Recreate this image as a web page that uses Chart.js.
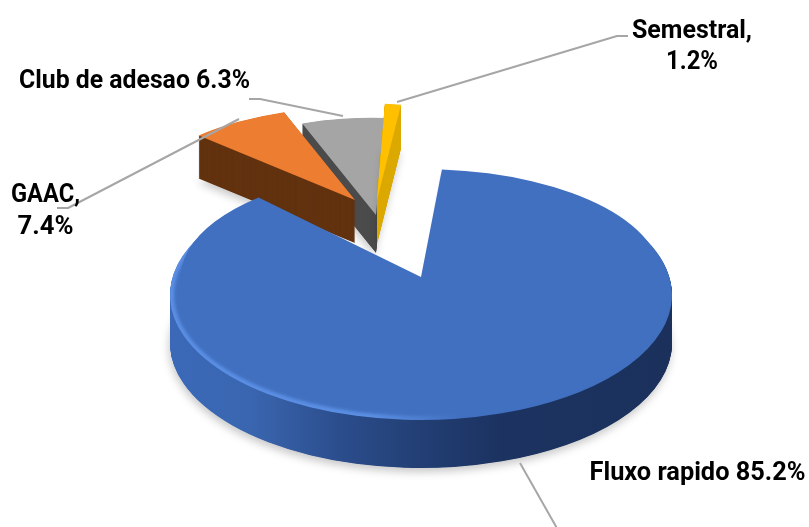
<!DOCTYPE html>
<html>
<head>
<meta charset="utf-8">
<style>
  html, body { margin: 0; padding: 0; background: #fff; }
  canvas { display: block; }
</style>
<script src="https://cdn.jsdelivr.net/npm/chart.js@4"></script>
</head>
<body>
<canvas id="pie3d" width="809" height="527"></canvas>
<script>
// data
const labels = ['Fluxo rapido', 'GAAC', 'Club de adesao', 'Semestral'];
const values = [85.2, 7.4, 6.3, 1.2];
const faceColors = ['#4170c0', '#ed7d31', '#a5a5a5', '#ffc000'];
const wallColors = ['#2f5597', '#633310', '#4b4b4b', '#dca900'];

// how each slice is laid on the fake 3d plane: apex, then a 2x2 matrix in px per unit radius
const frames = [
  { x: 421, y: 295, a: 251, b: 0, c: 0, d: 125, depth: 48 },
  { x: 355, y: 200, a: 219, b: -6, c: 11, d: 93, depth: 43 },
  { x: 376, y: 215, a: 212, b: -6, c: 16, d: 97, depth: 38 },
  { x: 377, y: 200, a: 213, b: 0, c: 17, d: 97, depth: 44 }
];
// far side of the big slice is compressed by perspective, apex sits higher than the ellipse centre
const blueApex = { x: 421, y: 277, a: 240, b: 0, c: 0, d: 108 };
const blueStretch = 6 * Math.PI / 180;
const blueWallStops = [[0, '#3b69b8'], [0.16, '#3a66b0'], [0.34, '#2b4d8c'], [0.54, '#203b6e'], [0.66, '#1c3361'], [1, '#1b315c']];
const blueRimStops = [[0, '#5b8fe4'], [0.4, '#5b8fe4'], [0.58, '#4170c0'], [1, '#4170c0']];
const drawOrder = [2, 3, 1, 0];

const leaders = [
  [[520, 463], [558, 530]],
  [[239, 119], [68, 208], [57, 208]],
  [[343, 116], [260, 99], [249, 99]],
  [[397, 102], [617, 36], [628, 36]]
];
const labelFont = 'bold 26px Roboto';
const labelBoxes = [
  { lines: [labels[0] + ' ' + values[0] + '%'], x: 697.5, y: [480], w: [216] },
  { lines: [labels[1] + ',', values[1] + '%'], x: 45.5, y: [202, 234], w: [69, 56] },
  { lines: [labels[2] + ' ' + values[2] + '%'], x: 134.5, y: [88], w: [231] },
  { lines: [labels[3] + ',', values[3] + '%'], x: 692, y: [38, 69], w: [120, 52] }
];

function paintArc(ctx, arc, frame, fill, dy) {
  const R = arc.outerRadius;
  const original = arc.options;
  arc.options = Object.create(original, {
    backgroundColor: { value: fill },
    borderWidth: { value: 0 }
  });
  ctx.save();
  ctx.translate(frame.x, frame.y + (dy || 0));
  ctx.transform(frame.a / R, frame.b / R, frame.c / R, frame.d / R, 0, 0);
  ctx.translate(-arc.x, -arc.y);
  arc.draw(ctx);
  ctx.restore();
  arc.options = original;
}

function paintWall(ctx, arc, frame, fill) {
  for (let i = frame.depth; i > 0; i -= 0.5) {
    if (i === frame.depth) {
      ctx.save();
      ctx.shadowColor = 'rgba(0,0,0,0.22)';
      ctx.shadowBlur = 9;
      ctx.shadowOffsetX = -1;
      ctx.shadowOffsetY = 4;
      paintArc(ctx, arc, frame, fill, i);
      ctx.restore();
    } else {
      paintArc(ctx, arc, frame, fill, i);
    }
  }
}

function horizontalGradient(ctx, arc, stops) {
  const g = ctx.createLinearGradient(arc.x - arc.outerRadius, 0, arc.x + arc.outerRadius, 0);
  stops.forEach(s => g.addColorStop(s[0], s[1]));
  return g;
}

const pie3d = {
  id: 'pie3d',
  beforeDatasetsDraw(chart) {
    const ctx = chart.ctx;
    const arcs = chart.getDatasetMeta(0).data;
    drawOrder.forEach(i => {
      const arc = arcs[i];
      const frame = frames[i];
      if (i === 0) {
        const start = arc.startAngle;
        const circ = arc.circumference;
        arc.startAngle = start - blueStretch;
        arc.circumference = circ + blueStretch;
        paintWall(ctx, arc, frame, horizontalGradient(ctx, arc, blueWallStops));
        paintArc(ctx, arc, frame, horizontalGradient(ctx, arc, blueRimStops));
        ctx.save();
        ctx.filter = 'blur(1.5px)';
        paintArc(ctx, arc, Object.assign({}, frame, { a: frame.a - 4, d: frame.d - 4 }), arc.options.backgroundColor);
        ctx.restore();
        paintArc(ctx, arc, blueApex, arc.options.backgroundColor);
        arc.startAngle = start;
        arc.circumference = circ;
      } else {
        paintWall(ctx, arc, frame, wallColors[i]);
        paintArc(ctx, arc, frame, arc.options.backgroundColor);
      }
    });
    return false; // slices are painted above, skip the flat pie
  },
  afterDraw(chart) {
    const ctx = chart.ctx;
    ctx.save();
    ctx.strokeStyle = '#a6a6a6';
    ctx.lineWidth = 2;
    ctx.lineJoin = 'round';
    leaders.forEach(pts => {
      ctx.beginPath();
      pts.forEach((p, n) => n ? ctx.lineTo(p[0], p[1]) : ctx.moveTo(p[0], p[1]));
      ctx.stroke();
    });
    ctx.fillStyle = '#000';
    ctx.font = labelFont;
    ctx.textAlign = 'center';
    ctx.textBaseline = 'alphabetic';
    labelBoxes.forEach(box => {
      box.lines.forEach((text, n) => ctx.fillText(text, box.x, box.y[n], box.w[n]));
    });
    ctx.restore();
  }
};

new Chart(document.getElementById('pie3d'), {
  type: 'pie',
  data: {
    labels: labels,
    datasets: [{
      data: values,
      backgroundColor: faceColors,
      borderWidth: 0
    }]
  },
  options: {
    responsive: false,
    animation: false,
    rotation: 11,
    layout: { padding: 0 },
    plugins: {
      legend: { display: false },
      title: { display: false },
      tooltip: { enabled: false }
    }
  },
  plugins: [pie3d]
});
</script>
</body>
</html>
